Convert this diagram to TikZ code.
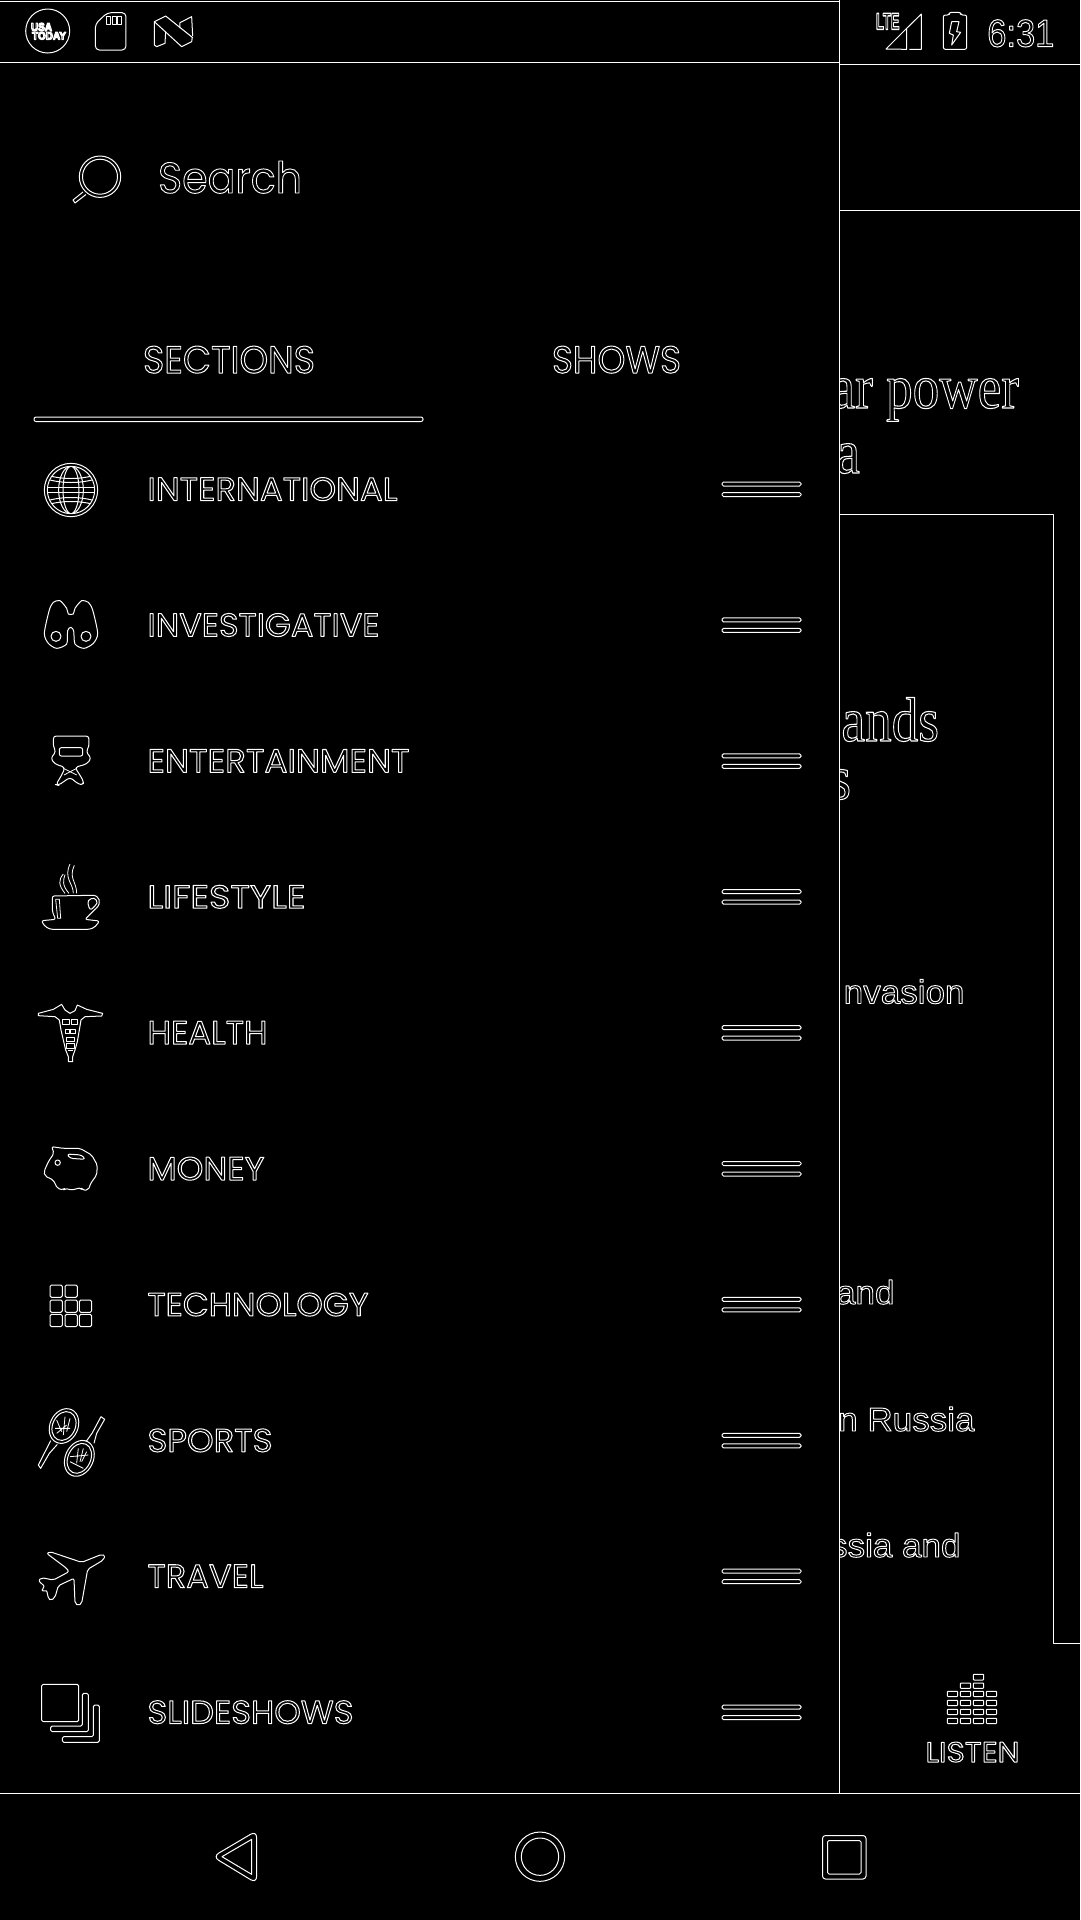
\documentclass[tikz,border=0pt]{standalone}
\usepackage{fontspec}
\usepackage{graphicx}
\setmainfont{Poppins}
\newfontfamily\serfont{Liberation Serif}
\newfontfamily\arfont{Liberation Sans}
\newfontfamily\boldfont{Liberation Sans Bold}
\newcommand\olon{\special{pdf:code 1 Tr 0.95 w}}
\newcommand\oloff{\special{pdf:code 0 Tr}}
% outline text fitted to a width and a cap height
\newcommand\fitw[4]{\resizebox{#1pt}{#2pt}{\fontsize{#3}{#3}\selectfont\color{white}\olon #4\oloff}}
\newcommand\scl[5]{\scalebox{#1}[#2]{\fontsize{#3}{#3}#4\color{white}\olon #5\oloff}}
\tikzset{
  edge/.style={draw=white,line width=1pt},
  thin edge/.style={draw=white,line width=.8pt},
  lab/.style={anchor=base west,inner sep=0pt,outer sep=0pt},
  rlab/.style={anchor=base east,inner sep=0pt,outer sep=0pt},
  rrect/.style={draw=white,line width=1pt,rounded corners=1.5pt},
}
\begin{document}
\begin{tikzpicture}[x=1pt,y=-1pt,line join=round]
\useasboundingbox (0,0) rectangle (1080,1920);
\fill[black] (0,0) rectangle (1080,1920);
% frame lines
\draw[edge] (0,1.5) -- (839.5,1.5);
\draw[edge] (0,62.5) -- (839.5,62.5);
\draw[edge] (839.5,64.5) -- (1080,64.5);
\draw[edge] (839.5,0) -- (839.5,1793);
\draw[edge] (839.5,210.5) -- (1080,210.5);
\draw[edge] (839.5,514.5) -- (1053.5,514.5) -- (1053.5,1643.5) -- (1080,1643.5);
\draw[edge] (0,1793.5) -- (1080,1793.5);
% status left
\draw[edge] (47.7,31) circle (22);
\node[lab] (usa) at (31,31) {\fitw{21}{8}{9}{\boldfont USA}};
\node[lab] (today) at (32,39.5) {\fitw{34}{7.5}{9}{\boldfont TODAY}};
\begin{scope}[scale=1/3]
\draw[edge,rounded corners=4pt] (286,72) -- (322,38) -- (378,38) -- (378,150) -- (286,150) -- cycle;
\foreach \a in {320,336,352} \draw[thin edge] (\a,50) rectangle (\a+12,72);
\draw[edge] (463,65) -- (463,135) -- (470,140) -- (495,130) -- (497,95);
\draw[edge] (463,65) -- (497,48) -- (577,112) -- (575,125) -- (545,140) -- cycle;
\draw[edge] (540,84) -- (540,68) -- (575,50) -- (578,108);
\end{scope}
% status right
\begin{scope}[shift={(780,0)},scale=1/3]
\node[lab] (lte) at (288,88) {\fitw{23.5}{16}{16}{\boldfont LTE}};
\draw[edge] (318,147) -- (380,85) -- (380,148) -- cycle;
\draw[edge] (380,85) -- (424,42) -- (424,148) -- (388,148);
\draw[edge,rounded corners=2pt] (490,148) -- (490,45) -- (508,45) -- (508,37) -- (542,37) -- (542,45) -- (560,45) -- (560,148) -- cycle;
\draw[edge] (515,65) -- (537,65) -- (530,95) -- (542,97) -- (515,135) -- (520,105) -- (508,100) -- cycle;
\node[lab] (clock) at (622,140) {\fitw{67}{27}{37}{\arfont 6:31}};
\end{scope}
% search
\draw[edge] (100,176.7) circle (20.7);
\draw[edge] (100,176.7) circle (17.5);
\draw[edge] (83,192) -- (73,200) -- (75,203) -- (86,194.5);
\node[lab] (search) at (158,193) {\fitw{144}{32}{44}{Search}};
% tabs
\node[lab] (sections) at (143,373) {\fitw{172}{27}{36}{SECTIONS}};
\node[lab] (shows) at (552,373) {\fitw{129}{27}{36}{SHOWS}};
\draw[edge,rounded corners=2pt] (34,417) rectangle (423,421.5);
% rows
\foreach \i/\t/\w in {0/INTERNATIONAL/250,1/INVESTIGATIVE/232,2/ENTERTAINMENT/262,3/LIFESTYLE/158,4/HEALTH/120,5/MONEY/117,6/TECHNOLOGY/221,7/SPORTS/125,8/TRAVEL/116,9/SLIDESHOWS/206}{
  \pgfmathsetmacro\cy{489+135.9*\i}
  \node[lab] (row\i) at (147.5,\cy+11.5) {\fitw{\w}{23}{31}{\t}};
  \draw[rrect] (722,\cy-7) rectangle (801,\cy-3);
  \draw[rrect] (722,\cy+3.5) rectangle (801,\cy+7.5);
}
% globe
\begin{scope}[shift={(20,440)},scale=1/3]
\draw[edge] (153,150) circle (80);
\draw[edge] (153,150) circle (71);
\begin{scope}
\clip (153,150) circle (71);
\draw[edge] (153,150) ellipse (37 and 71);
\draw[edge] (153,150) ellipse (24 and 71);
\draw[edge] (75,143) -- (230,143);
\draw[edge] (75,157) -- (230,157);
\draw[edge] (90,108) .. controls (130,118) and (176,118) .. (216,108);
\draw[edge] (90,120) .. controls (130,130) and (176,130) .. (216,120);
\draw[edge] (90,192) .. controls (130,182) and (176,182) .. (216,192);
\draw[edge] (90,180) .. controls (130,170) and (176,170) .. (216,180);
\end{scope}
% binoculars
\draw[edge] plot[smooth cycle,tension=.45] coordinates {(145,522) (140,505) (120,482) (100,487) (88,510) (73,580) (85,610) (110,625) (140,612) (143,572) (152,562) (161,572) (165,612) (192,625) (220,610) (233,580) (218,510) (205,487) (185,482) (165,505) (160,522)};
\draw[edge] (108,589) circle (15);
\draw[edge] (198,589) circle (15);
% chair
\draw[edge,rounded corners=3pt] (100,888) -- (207,888) -- (207,920) -- (198,935) -- (214,955) -- (200,972) -- (165,982) -- (190,1022) -- (190,1035) -- (175,1032) -- (150,1012) -- (115,1036) -- (108,1034) -- (128,1000) -- (135,982) -- (105,972) -- (92,955) -- (108,935) -- (100,920) -- cycle;
\draw[edge,rounded corners=2pt] (118,923) rectangle (188,948);
\draw[thin edge] (130,985) -- (170,1005);
\draw[thin edge] (170,985) -- (132,1005);
\end{scope}
% cup, caduceus, pig
\begin{scope}[shift={(20,850)},scale=1/3]
\draw[edge,rounded corners=2pt] (97,138) -- (210,136) .. controls (240,135) and (245,160) .. (225,178) -- (195,208) -- (238,213) .. controls (225,235) and (210,238) .. (195,238) -- (105,238) .. controls (85,238) and (72,228) .. (65,212) -- (107,208) -- (97,185) -- cycle;
\draw[edge] plot[smooth cycle,tension=.6] coordinates {(205,152) (222,145) (231,158) (215,177) (207,172)};
\draw[thin edge] (107,148) -- (118,148) -- (122,205) -- (113,205) -- cycle;
\draw[thin edge] (135,130) .. controls (115,105) and (115,90) .. (130,72);
\draw[thin edge] (147,130) .. controls (125,105) and (130,90) .. (135,74);
\draw[thin edge] (160,130) .. controls (160,100) and (130,85) .. (150,42);
\draw[thin edge] (170,130) .. controls (170,95) and (145,85) .. (163,46);
% caduceus
\draw[edge] (55,490) -- (100,478) -- (125,463) -- (135,480) -- (150,490) -- (165,482) -- (172,465) -- (200,478) -- (248,490) -- (245,498) -- (195,500) -- (183,510) -- (178,540) -- (172,575) -- (165,600) -- (158,620) -- (158,635) -- (145,635) -- (145,620) -- (137,600) -- (130,570) -- (123,540) -- (118,510) -- (105,500) -- (55,497) -- cycle;
\draw[thin edge] (128,508) rectangle (148,524);
\draw[thin edge] (153,508) rectangle (172,524);
\draw[thin edge] (135,537) rectangle (147,551);
\draw[thin edge] (152,537) rectangle (165,551);
\draw[thin edge] (140,563) rectangle (163,575);
\draw[thin edge] (140,580) rectangle (163,594);
\draw[thin edge] (143,602) -- (158,602);
% pig
\draw[edge,rounded corners=2pt] (95,890) -- (130,895) -- (180,895) -- (215,915) -- (232,945) -- (230,975) -- (212,1000) -- (205,1020) -- (187,1020) -- (183,1013) -- (155,1020) -- (135,1015) -- (130,1020) -- (112,1015) -- (100,990) -- (75,978) -- (72,965) -- (85,935) -- (102,910) -- cycle;
\draw[edge] (113,938) circle (8);
\draw[edge,rounded corners=3pt] (140,912) -- (185,915) -- (197,928) -- (150,925) -- cycle;
\end{scope}
% technology
\begin{scope}[shift={(30,1265)},scale=1/3]
\foreach \a/\b in {60/60,105/60,60/105,105/105,148/105,60/148,105/148,148/148}
  \draw[rrect] (\a,\b) rectangle (\a+37,\b+37);
\end{scope}
% rackets, plane, slides
\begin{scope}[shift={(20,1390)},scale=1/3]
\draw[edge,rotate around={-25:(132,108)}] (132,108) ellipse (42 and 54);
\draw[edge,rotate around={-25:(132,108)}] (132,108) ellipse (34 and 45);
\draw[edge] (92,152) -- (55,225) -- (62,235) -- (88,190) -- (112,163);
\draw[thin edge] (110,90) -- (125,125) (135,80) -- (130,135) (150,85) -- (140,125) (105,115) -- (150,115) (110,130) -- (140,105);
\draw[edge,rotate around={-25:(178,205)}] (178,205) ellipse (42 and 56);
\draw[edge,rotate around={-25:(178,205)}] (178,205) ellipse (34 and 47);
\draw[edge] (198,155) -- (216,130) -- (243,80) -- (254,88) -- (230,130) -- (222,160);
\draw[thin edge] (175,175) -- (170,220) (190,175) -- (180,215) (200,185) -- (185,215) (150,200) -- (205,195) (150,215) -- (190,235);
\draw[edge,rounded corners=2pt] (80,490) -- (90,485) -- (185,517) -- (245,493) -- (255,497) -- (250,510) -- (203,538) -- (185,640) -- (175,647) -- (165,640) -- (162,565) -- (115,587) -- (105,622) -- (92,632) -- (85,625) -- (80,600) -- (68,605) -- (65,595) -- (75,590) -- (55,572) -- (65,563) -- (100,570) -- (147,545) -- (140,535) -- cycle;
\draw[rrect] (65,883) rectangle (176,995);
\draw[rrect] (187,910) -- (205,910) -- (205,1025) -- (92,1025) -- (92,1008) -- (187,1008) -- cycle;
\draw[rrect] (220,945) -- (238,945) -- (238,1057) -- (127,1057) -- (127,1040) -- (220,1040) -- cycle;
\end{scope}
% behind-drawer text
\begin{scope}
\clip (840,0) rectangle (1080,1920);
\node[rlab] (t1) at (1019,408) {\scl{.95}{1.12}{56}{\serfont}{ar power}};
\node[rlab] (t2) at (860,473) {\scl{.95}{1.12}{56}{\serfont}{a}};
\node[rlab] (t3) at (939,741) {\scl{.95}{1.12}{56}{\serfont}{ands}};
\node[rlab] (t4) at (851,799) {\scl{.95}{1.12}{56}{\serfont}{s}};
\node[rlab] (t5) at (964.5,1003.5) {\scl{1.03}{.98}{34}{\arfont}{nvasion}};
\node[rlab] (t6) at (894.5,1304) {\scl{1.03}{.98}{34}{\arfont}{and}};
\node[rlab] (t7) at (974.5,1431) {\scl{1.03}{.98}{34}{\arfont}{n Russia}};
\node[rlab] (t8) at (960.5,1557) {\scl{1.03}{.98}{34}{\arfont}{ssia and}};
\end{scope}
% listen
\foreach \a in {947.3,960.3,973.3,986.3}
  \foreach \b in {1718.3,1709.3,1700.3,1691.3}
    \draw[edge,rounded corners=.8pt] (\a,\b) rectangle (\a+10.4,\b+5.3);
\draw[edge,rounded corners=.8pt] (960.3,1683) rectangle (970.7,1688.3);
\draw[edge,rounded corners=.8pt] (973.3,1683) rectangle (983.7,1688.3);
\draw[edge,rounded corners=.8pt] (973.3,1674.3) rectangle (983.7,1680);
\node[lab] (listen) at (925.5,1762) {\fitw{94}{20}{27}{LISTEN}};
% nav
\begin{scope}[shift={(190,1810)},scale=1/3]
\draw[edge,rounded corners=7pt] (200,62) -- (200,220) -- (68,140) -- cycle;
\draw[edge] (185,88) -- (185,193) -- (96,140) -- cycle;
\draw[edge] (1050,140) circle (74);
\draw[edge] (1050,140) circle (56);
\end{scope}
\draw[edge,rounded corners=3pt] (822.5,1835.5) rectangle (866,1879);
\draw[edge,rounded corners=1.5pt] (827.5,1840.5) rectangle (861,1874);
\end{tikzpicture}
\end{document}
